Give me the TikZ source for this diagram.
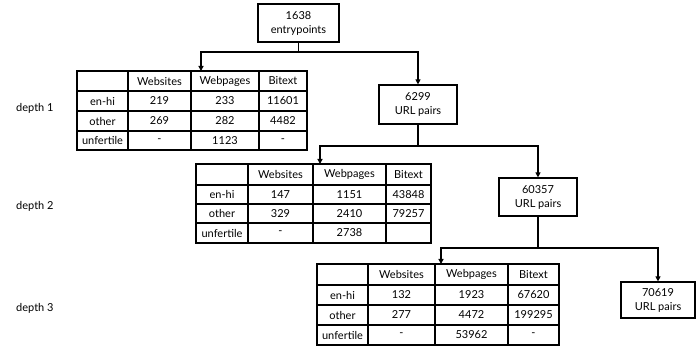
\documentclass[tikz,border=0pt]{standalone}
\usepackage{fontspec}
\setmainfont{Lato}
\usetikzlibrary{arrows.meta}
\tikzset{
  cell/.style={draw, line width=1.2pt, inner sep=0pt, font=\fontsize{11}{13}\selectfont},
  box/.style={draw, line width=1.2pt, inner sep=0pt, align=center, font=\fontsize{11}{14}\selectfont},
  conn/.style={line width=1.2pt},
  arr/.style={line width=1.2pt, -{Triangle[width=5pt,length=5pt]}},
  depthlbl/.style={anchor=west, inner sep=0pt, font=\fontsize{11}{13}\selectfont}
}
\newcommand\tcell[6]{\node[cell,minimum width={(#4-#2)*1pt},minimum height={(#5-#3)*1pt}] (#1) at ({(#2+#4)/2},{(#3+#5)/2}) {#6};}
\newcommand\trow[8]{%
  \tcell{#1-#2-0}{\xa}{#3}{\xb}{#4}{#5}
  \tcell{#1-#2-1}{\xb}{#3}{\xc}{#4}{#6}
  \tcell{#1-#2-2}{\xc}{#3}{\xd}{#4}{#7}
  \tcell{#1-#2-3}{\xd}{#3}{\xe}{#4}{#8}}
\newcommand\bx[6]{\node[box,minimum width={(#4-#2)*1pt},minimum height={(#5-#3)*1pt}] (#1) at ({(#2+#4)/2},{(#3+#5)/2}) {#6};}
\begin{document}
\begin{tikzpicture}[x=1pt,y=-1pt]
\useasboundingbox (0,0) rectangle (697,347);
% boxes
\bx{A}{258}{4}{339}{42}{1638\\entrypoints}
\bx{B}{379}{85}{457}{124}{6299\\URL pairs}
\bx{C}{499}{178}{577}{216}{60357\\URL pairs}
\bx{D}{621}{282}{695}{318}{70619\\URL pairs}
% table 1
\def\xa{77}\def\xb{128}\def\xc{191}\def\xd{259}\def\xe{307}
\trow{t1}{0}{71}{91}{}{Websites}{Webpages}{Bitext}
\trow{t1}{1}{91}{111}{en-hi}{219}{233}{11601}
\trow{t1}{2}{111}{131}{other}{269}{282}{4482}
\trow{t1}{3}{131}{150}{unfertile}{-}{1123}{-}
% table 2
\def\xa{196}\def\xb{248}\def\xc{313}\def\xd{386}\def\xe{431}
\trow{t2}{0}{164}{185}{}{Websites}{Webpages}{Bitext}
\trow{t2}{1}{185}{204}{en-hi}{147}{1151}{43848}
\trow{t2}{2}{204}{223}{other}{329}{2410}{79257}
\trow{t2}{3}{223}{243}{unfertile}{-}{2738}{}
% table 3
\def\xa{317}\def\xb{368}\def\xc{435}\def\xd{508}\def\xe{559}
\trow{t3}{0}{264}{285}{}{Websites}{Webpages}{Bitext}
\trow{t3}{1}{285}{305}{en-hi}{132}{1923}{67620}
\trow{t3}{2}{305}{325}{other}{277}{4472}{199295}
\trow{t3}{3}{325}{345}{unfertile}{-}{53962}{-}
% depth labels
\node[depthlbl] (d1) at (16,108) {depth 1};
\node[depthlbl] (d2) at (16,206) {depth 2};
\node[depthlbl] (d3) at (16,308) {depth 3};
% connectors
\coordinate (j1) at (298.5,52);
\coordinate (t1in) at (201,71);
\draw[conn] (A.south) -- (j1);
\draw[arr] (j1) -| (t1in);
\draw[arr] (j1) -| (B.north);
\coordinate (j2) at (418,146);
\coordinate (t2in) at (320,164);
\draw[conn] (B.south) -- (j2);
\draw[arr] (j2) -| (t2in);
\draw[arr] (j2) -| (C.north);
\coordinate (j3) at (538,248);
\coordinate (t3in) at (441,264);
\draw[conn] (C.south) -- (j3);
\draw[arr] (j3) -| (t3in);
\draw[arr] (j3) -| (D.north);
\end{tikzpicture}
\end{document}
